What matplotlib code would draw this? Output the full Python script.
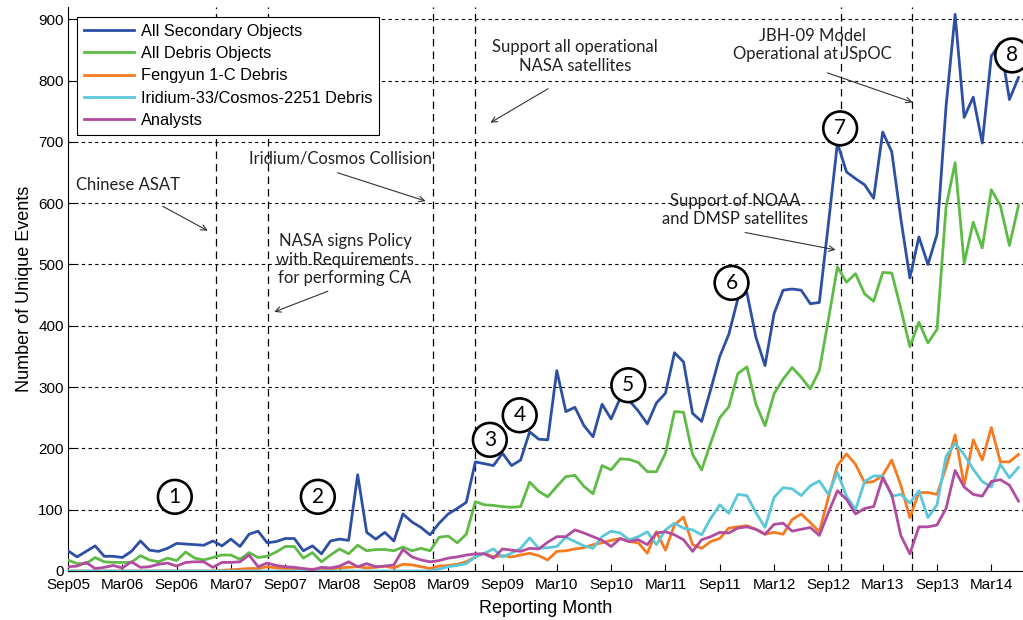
import numpy as np
import matplotlib
matplotlib.use('Agg')
import matplotlib.pyplot as plt

# Monthly counts, Sep05 .. Jun14 (106 months)
tick_labels = ['Sep05', 'Mar06', 'Sep06', 'Mar07', 'Sep07', 'Mar08', 'Sep08', 'Mar09', 'Sep09',
               'Mar10', 'Sep10', 'Mar11', 'Sep11', 'Mar12', 'Sep12', 'Mar13', 'Sep13', 'Mar14']

secondary = [33, 23, 32, 41, 24, 24, 22, 32, 49, 34,
             32, 37, 45, 44, 43, 42, 49, 41, 52, 40,
             60, 65, 46, 48, 53, 53, 33, 41, 28, 49,
             52, 50, 157, 63, 52, 63, 49, 93, 80, 71,
             59, 78, 93, 102, 112, 178, 175, 172, 192, 172,
             181, 227, 215, 214, 327, 260, 267, 237, 219, 272,
             248, 282, 278, 261, 240, 274, 290, 356, 341, 257,
             244, 296, 350, 386, 444, 454, 381, 335, 420, 458,
             460, 458, 436, 438, 566, 698, 651, 640, 630, 608,
             716, 684, 575, 478, 545, 500, 549, 758, 908, 740,
             773, 698, 840, 861, 769, 805]

debris = [18, 12, 12, 22, 15, 14, 14, 14, 25, 18,
          15, 21, 17, 31, 21, 18, 22, 26, 26, 19,
          30, 22, 24, 31, 40, 40, 21, 30, 15, 26,
          36, 28, 42, 33, 35, 35, 33, 39, 33, 37,
          33, 55, 57, 46, 60, 113, 108, 107, 105, 104,
          105, 145, 130, 121, 138, 154, 156, 138, 126, 172,
          165, 183, 182, 177, 162, 162, 192, 260, 259, 190,
          165, 209, 250, 268, 322, 333, 272, 237, 289, 313,
          332, 316, 297, 327, 410, 496, 471, 485, 452, 440,
          487, 486, 428, 366, 406, 372, 394, 594, 666, 502,
          569, 527, 622, 596, 531, 596]

fengyun = [0] * 17 + [1, 2, 3,
           4, 4, 7, 5, 4, 4, 3, 3, 2, 3,
           5, 6, 7, 5, 6, 8, 5, 11, 10, 7,
           4, 8, 9, 11, 15, 23, 29, 23, 25, 23,
           26, 29, 25, 18, 32, 33, 36, 38, 43, 46,
           50, 53, 48, 46, 29, 64, 34, 75, 88, 43,
           37, 48, 53, 70, 72, 74, 68, 60, 63, 60,
           84, 93, 79, 64, 120, 172, 191, 174, 144, 146,
           156, 181, 140, 87, 128, 128, 125, 169, 222, 140,
           214, 181, 234, 178, 178, 190]

iridium = [0] * 41 + [3, 7, 9, 12, 23, 29, 36, 23, 29,
           37, 54, 37, 38, 40, 55, 48, 41, 37, 56,
           65, 62, 51, 56, 64, 43, 67, 78, 70, 67,
           59, 86, 108, 94, 125, 123, 95, 71, 120, 136,
           134, 123, 139, 147, 125, 161, 122, 100, 146, 155,
           155, 122, 125, 111, 131, 87, 108, 187, 208, 190,
           166, 146, 137, 174, 152, 169]

analysts = [7, 8, 14, 4, 6, 9, 5, 15, 6, 7,
            11, 13, 8, 14, 15, 15, 6, 14, 14, 15,
            26, 7, 13, 9, 7, 6, 4, 2, 6, 5,
            8, 15, 7, 12, 7, 8, 10, 35, 23, 18,
            15, 17, 21, 23, 26, 28, 28, 21, 36, 34,
            32, 37, 36, 47, 56, 56, 67, 62, 56, 50,
            40, 53, 48, 51, 43, 62, 64, 59, 51, 32,
            51, 56, 63, 62, 70, 72, 68, 60, 76, 78,
            65, 68, 71, 58, 95, 131, 117, 93, 102, 105,
            152, 125, 58, 28, 72, 72, 75, 102, 164, 137,
            125, 122, 146, 149, 140, 114]

# event dates (months since Sep05)
events = [16.3, 22.1, 40.3, 45.0, 85.4, 93.2]

# text, text pos, arrow tail, arrow head
notes = [('Chinese ASAT', (6.6, 629), (10.2, 597), (15.7, 553)),
         ('Iridium/Cosmos Collision', (30.1, 673), (29.5, 651), (39.8, 602)),
         ('NASA signs Policy\nwith Requirements\nfor performing CA', (30.6, 508), (29.0, 458), (22.5, 421)),
         ('Support all operational\nNASA satellites', (56.0, 839), (53.3, 789), (46.4, 729)),
         ('Support of NOAA\nand DMSP satellites', (73.7, 589), (74.5, 553), (85.1, 523)),
         ('JBH-09 Model\nOperational at JSpOC', (82.2, 858), (83.6, 814), (93.6, 763))]

circles = [('1', 11.8, 121), ('2', 27.6, 121), ('3', 46.6, 214), ('4', 49.9, 254),
           ('5', 61.9, 303), ('6', 73.3, 470), ('7', 85.3, 722), ('8', 104.3, 841)]

plt.rcParams['font.family'] = ['Liberation Sans', 'DejaVu Sans']

meses = np.arange(len(secondary))

fig = plt.figure(figsize=(10.23, 6.2), dpi=100)
ax = fig.add_axes([68 / 1023, 1 - 571 / 620, 955 / 1023, 564 / 620])

ax.plot(meses, secondary, color='#2D4FA4', lw=2, label='All Secondary Objects', zorder=3)
ax.plot(meses, debris, color='#5DBB46', lw=2, label='All Debris Objects', zorder=3)
ax.plot(meses, fengyun, color='#F47B20', lw=2, label='Fengyun 1-C Debris', zorder=3)
ax.plot(meses, iridium, color='#5BC7DB', lw=2, label='Iridium-33/Cosmos-2251 Debris', zorder=3)
ax.plot(meses, analysts, color='#B14CA0', lw=2, label='Analysts', zorder=3)

for ev in events:
    ax.axvline(ev, color='black', lw=0.9, linestyle=(0, (6, 4)), zorder=2)

for txt, pos, tail, head in notes:
    ax.text(pos[0], pos[1], txt, ha='center', va='center', fontsize=12,
            family=['Lato', 'DejaVu Sans'], color='#222222', linespacing=1.2, zorder=4)
    ax.annotate('', xy=head, xytext=tail,
                arrowprops=dict(arrowstyle='->', color='#333333', lw=0.8), zorder=4)

for num, cx, cy in circles:
    ax.text(cx, cy, num, ha='center', va='center', fontsize=15, family=['Lato', 'DejaVu Sans'],
            zorder=5, bbox=dict(boxstyle='circle,pad=0.33', fc='white', ec='black', lw=1.9))

ax.set_xlim(0, 105.5)
ax.set_ylim(0, 920)
ax.set_xticks(np.arange(0, 103, 6))
ax.set_xticklabels(tick_labels, fontsize=11)
ax.set_yticks(np.arange(0, 901, 100))
ax.tick_params(axis='y', labelsize=11, pad=3)
ax.tick_params(axis='x', pad=5)
ax.tick_params(direction='in', length=5, width=0.8)

ax.yaxis.grid(True, color='black', lw=0.8, linestyle=(0, (3, 3)))
ax.set_axisbelow(True)
ax.spines['top'].set_visible(False)
ax.spines['right'].set_visible(False)

ax.set_xlabel('Reporting Month', fontsize=13, labelpad=6)
ax.set_ylabel('Number of Unique Events', fontsize=13)

leg = ax.legend(loc='upper left', bbox_to_anchor=(0.0094, 0.982), borderaxespad=0,
                fontsize=11.8, handlelength=3.1, handletextpad=0.4, labelspacing=0.45,
                fancybox=False, edgecolor='black', framealpha=1)
leg.get_frame().set_linewidth(0.8)
leg.set_zorder(6)

fig.savefig('out.png', dpi=100)
